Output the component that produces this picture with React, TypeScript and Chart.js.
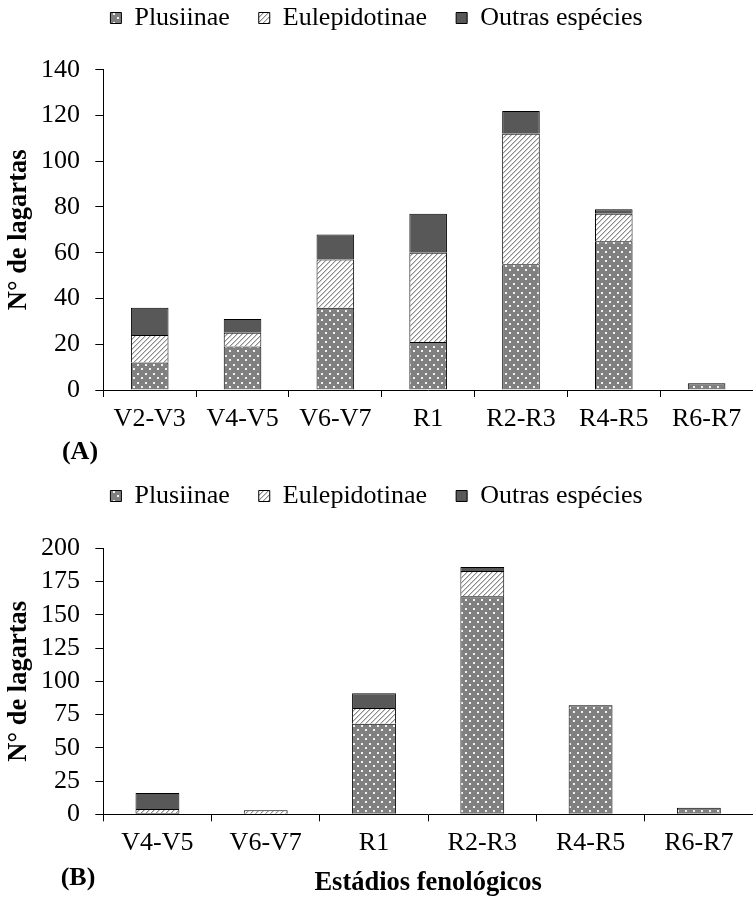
import React, { useEffect, useRef } from 'react';
import { Chart, registerables } from 'chart.js';

Chart.register(...registerables);

// ---------- data ----------
const seriesNames = ['Plusiinae', 'Eulepidotinae', 'Outras espécies'];

const categoriesA = ['V2-V3', 'V4-V5', 'V6-V7', 'R1', 'R2-R3', 'R4-R5', 'R6-R7'];
const plusiinaeA = [12, 19, 36, 21, 55, 65, 3];
const eulepidotinaeA = [12, 6, 21, 39, 57, 12, 0];
const outrasA = [12, 6, 11, 17, 10, 2, 0];
const yMaxA = 140;
const yStepA = 20;

const categoriesB = ['V4-V5', 'V6-V7', 'R1', 'R2-R3', 'R4-R5', 'R6-R7'];
const plusiinaeB = [1, 0, 68, 164, 82, 5];
const eulepidotinaeB = [3, 3, 12, 19, 0, 0];
const outrasB = [12, 0, 11, 3, 0, 0];
const yMaxB = 200;
const yStepB = 25;

const yTitle = 'N° de lagartas';
const xTitleB = 'Estádios fenológicos';
const panelA = '(A)';
const panelB = '(B)';

// ---------- styling ----------
const FONT = "'Liberation Serif', 'Times New Roman', Times, serif";

function makePatterns() {
  const dots = document.createElement('canvas');
  dots.width = 8;
  dots.height = 9;
  const d = dots.getContext('2d')!;
  d.fillStyle = '#808080';
  d.fillRect(0, 0, 8, 9);
  d.fillStyle = '#f2f2f2';
  d.fillRect(1, 1, 2, 2);
  d.fillRect(5, 5, 2, 2);

  const hatch = document.createElement('canvas');
  hatch.width = 5;
  hatch.height = 5;
  const h = hatch.getContext('2d')!;
  h.fillStyle = '#ffffff';
  h.fillRect(0, 0, 5, 5);
  for (let i = 0; i < 5; i++) {
    h.fillStyle = '#8a8a8a';
    h.fillRect(i, 4 - i, 1, 1);
    h.fillStyle = '#cfcfcf';
    h.fillRect((i + 1) % 5, 4 - i, 1, 1);
  }
  const ctx = document.createElement('canvas').getContext('2d')!;
  return {
    dots: ctx.createPattern(dots, 'repeat')!,
    hatch: ctx.createPattern(hatch, 'repeat')!,
    solid: '#585858',
  };
}

function panelLabelPlugin(text: string, x: number, y: number) {
  return {
    id: 'panelLabel',
    afterDraw(chart: any) {
      const ctx = chart.ctx;
      ctx.save();
      ctx.font = `bold 26px ${FONT}`;
      ctx.fillStyle = '#000';
      ctx.textAlign = 'center';
      ctx.textBaseline = 'middle';
      ctx.fillText(text, x, y);
      ctx.restore();
    },
  };
}

type Cfg = {
  cats: string[];
  plus: number[];
  eulep: number[];
  outras: number[];
  yMax: number;
  yStep: number;
  spacerPad: number;
  xHeight: number;
  xTickPad: number;
  xTitle?: string;
  xTitlePadBottom?: number;
  panel: string;
  panelX: number;
  panelY: number;
};

function makeConfig(p: Cfg, pats: ReturnType<typeof makePatterns>): any {
  const common = { borderColor: '#000', borderWidth: 1 };
  return {
    type: 'bar',
    data: {
      labels: p.cats,
      datasets: [
        { label: seriesNames[0], data: p.plus, backgroundColor: pats.dots, ...common },
        { label: seriesNames[1], data: p.eulep, backgroundColor: pats.hatch, ...common },
        { label: seriesNames[2], data: p.outras, backgroundColor: pats.solid, ...common },
      ],
    },
    options: {
      responsive: false,
      animation: false,
      layout: { padding: 0 },
      datasets: { bar: { categoryPercentage: 1, barPercentage: 0.405 } },
      plugins: {
        legend: {
          display: true,
          position: 'top',
          labels: {
            boxWidth: 11,
            boxHeight: 11,
            padding: 29,
            color: '#000',
            font: { family: FONT, size: 26 },
          },
        },
        title: {
          display: true,
          text: '',
          weight: 500,
          padding: { top: p.spacerPad, bottom: p.spacerPad },
          font: { size: 10, lineHeight: 1 },
        },
        tooltip: { enabled: false },
      },
      scales: {
        x: {
          stacked: true,
          grid: {
            display: true,
            drawOnChartArea: false,
            drawTicks: true,
            tickLength: 7,
            color: '#000',
            offset: true,
          },
          border: { display: true, color: '#000', width: 1 },
          ticks: {
            color: '#000',
            font: { family: FONT, size: 26 },
            padding: p.xTickPad,
            maxRotation: 0,
            autoSkip: false,
          },
          title: p.xTitle
            ? {
                display: true,
                text: p.xTitle,
                color: '#000',
                font: { family: FONT, size: 26.5, weight: 'bold', lineHeight: 1.2 },
                padding: { top: 0, bottom: p.xTitlePadBottom ?? 0 },
              }
            : { display: false },
          afterFit: (s: any) => {
            s.height = p.xHeight;
          },
        },
        y: {
          stacked: true,
          min: 0,
          max: p.yMax,
          ticks: {
            stepSize: p.yStep,
            autoSkip: false,
            color: '#000',
            font: { family: FONT, size: 26 },
            padding: 15.3,
          },
          grid: {
            drawOnChartArea: false,
            drawTicks: true,
            tickLength: 8,
            color: '#000',
          },
          border: { display: true, color: '#000', width: 1 },
          title: {
            display: true,
            text: yTitle,
            color: '#000',
            font: { family: FONT, size: 26.5, weight: 'bold', lineHeight: 1 },
            padding: { top: 6, bottom: 0 },
          },
          afterFit: (s: any) => {
            s.width = 103.3;
          },
        },
      },
    },
    plugins: [panelLabelPlugin(p.panel, p.panelX, p.panelY)],
  };
}

export default function App() {
  const refA = useRef<HTMLCanvasElement>(null);
  const refB = useRef<HTMLCanvasElement>(null);

  useEffect(() => {
    const pats = makePatterns();
    const chartA = new Chart(
      refA.current!,
      makeConfig(
        {
          cats: categoriesA,
          plus: plusiinaeA,
          eulep: eulepidotinaeA,
          outras: outrasA,
          yMax: yMaxA,
          yStep: yStepA,
          spacerPad: 9.35,
          xHeight: 80,
          xTickPad: 7,
          panel: panelA,
          panelX: 80,
          panelY: 476,
        },
        pats
      )
    );
    const chartB = new Chart(
      refB.current!,
      makeConfig(
        {
          cats: categoriesB,
          plus: plusiinaeB,
          eulep: eulepidotinaeB,
          outras: outrasB,
          yMax: yMaxB,
          yStep: yStepB,
          spacerPad: 9.65,
          xHeight: 99.7,
          xTickPad: 6,
          xTitle: xTitleB,
          xTitlePadBottom: 15,
          panel: panelB,
          panelX: 78,
          panelY: 424,
        },
        pats
      )
    );
    return () => {
      chartA.destroy();
      chartB.destroy();
    };
  }, []);

  return (
    <div
      style={{
        position: 'absolute',
        left: 0,
        top: 0,
        width: 753,
        height: 898,
        overflow: 'hidden',
        background: '#fff',
      }}
    >
      <canvas
        ref={refA}
        width={753}
        height={494}
        style={{ position: 'absolute', left: 0, top: -24, width: 753, height: 494 }}
      />
      <canvas
        ref={refB}
        width={753}
        height={460}
        style={{ position: 'absolute', left: 0, top: 454, width: 753, height: 460 }}
      />
    </div>
  );
}
